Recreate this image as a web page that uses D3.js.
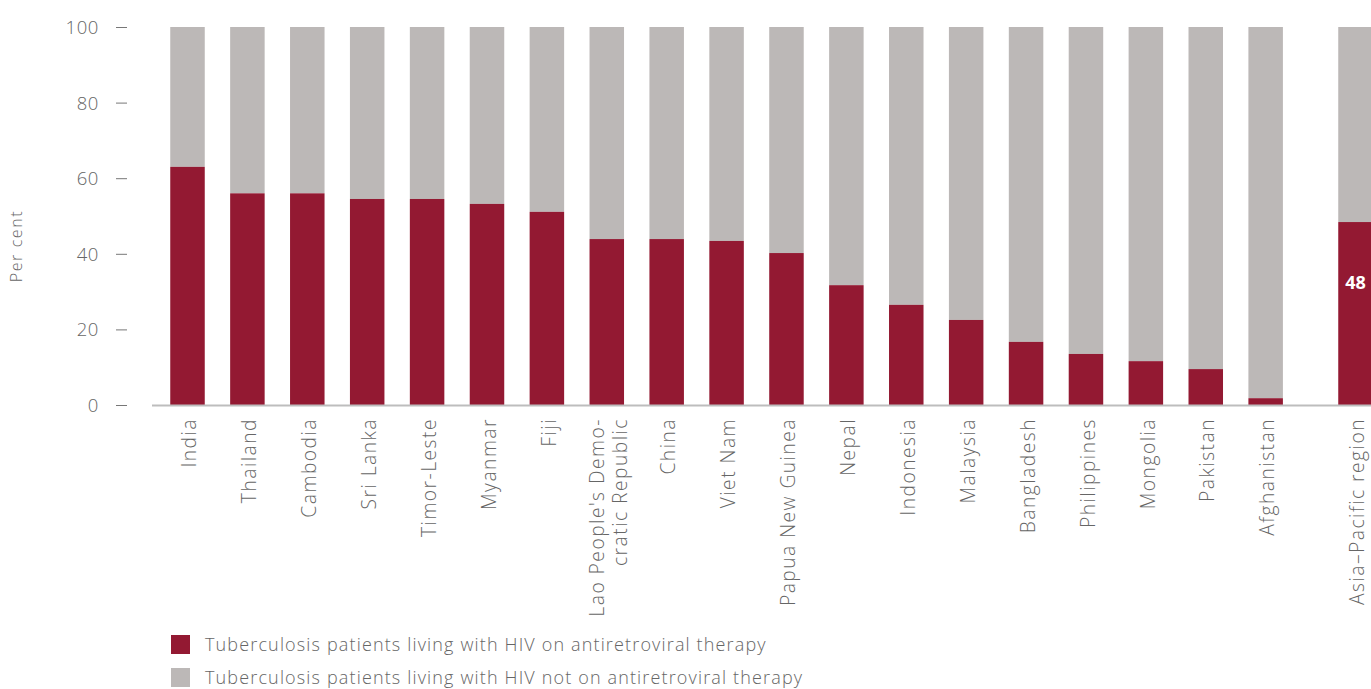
<!DOCTYPE html>
<html>
<head>
<meta charset="utf-8">
<script src="https://cdn.jsdelivr.net/npm/d3@7"></script>
<style>
  html, body { margin: 0; padding: 0; background: #fff; }
  svg { display: block; }
  text { font-family: "Open Sans", Lato, sans-serif; }
</style>
</head>
<body>
<svg id="chart" width="1371" height="689"></svg>
<script>
const categories = ["India", "Thailand", "Cambodia", "Sri Lanka", "Timor-Leste", "Myanmar", "Fiji",
  "Lao People's Demo-|cratic Republic", "China", "Viet Nam", "Papua New Guinea", "Nepal", "Indonesia",
  "Malaysia", "Bangladesh", "Philippines", "Mongolia", "Pakistan", "Afghanistan", "Asia–Pacific region"];
const onART = [63, 56, 56, 54.5, 54.5, 53.2, 51.1, 43.9, 43.9, 43.4, 40.2, 31.7, 26.5, 22.5, 16.7, 13.5, 11.6, 9.5, 1.8, 48.4];
const notOnART = onART.map(v => 100 - v);
const yTicks = [0, 20, 40, 60, 80, 100];
const seriesNames = ["Tuberculosis patients living with HIV on antiretroviral therapy",
  "Tuberculosis patients living with HIV not on antiretroviral therapy"];
const colors = ["#931932", "#bcb8b7"];
const regionLabel = ["48"];

const svg = d3.select("#chart");
const textColor = "#666";
const W = 300;

const slot = categories.map((c, i) => i === categories.length - 1 ? i + 0.5 : i);
const x = d3.scaleLinear().domain([0, 19.5]).range([187.5, 1355.5]);
const barW = 34.5;
const y = d3.scaleLinear().domain([0, 100]).range([405, 27]);

const data = categories.map((c, i) => ({ c, i, s: slot[i], a: onART[i], b: notOnART[i] }));

svg.append("g").selectAll("rect").data(data).join("rect")
  .attr("x", d => x(d.s) - barW / 2)
  .attr("width", barW)
  .attr("y", d => y(d.a + d.b))
  .attr("height", d => y(d.a) - y(d.a + d.b))
  .attr("fill", colors[1]);

svg.append("g").selectAll("rect").data(data).join("rect")
  .attr("x", d => x(d.s) - barW / 2)
  .attr("width", barW)
  .attr("y", d => y(d.a))
  .attr("height", d => y(0) - y(d.a))
  .attr("fill", colors[0]);

svg.append("line")
  .attr("x1", 152).attr("x2", 1371)
  .attr("y1", y(0) + 0.5).attr("y2", y(0) + 0.5)
  .attr("stroke", "#bdbdbd").attr("stroke-width", 2);

const yAxis = d3.axisLeft(y).tickValues(yTicks).tickSize(0).tickPadding(0);
const gy = svg.append("g").attr("transform", "translate(99,0)").call(yAxis);
gy.select(".domain").remove();
gy.selectAll(".tick text").attr("font-size", 18.5).attr("fill", textColor)
  .attr("font-family", "'Open Sans', sans-serif").attr("font-weight", W).attr("x", 0).attr("dy", "0.35em")
  .attr("letter-spacing", 0.6);
gy.selectAll(".tick").append("line")
  .attr("x1", 17).attr("x2", 28).attr("y1", 0).attr("y2", 0)
  .attr("stroke", "#777").attr("stroke-width", 1);

svg.append("text")
  .attr("transform", "translate(22,246) rotate(-90)")
  .attr("text-anchor", "middle")
  .attr("font-size", 16).attr("font-weight", W).attr("fill", textColor)
  .attr("letter-spacing", 1.6)
  .text("Per cent");

const xl = svg.append("g").selectAll("g").data(data).join("g")
  .attr("transform", d => `translate(${x(d.s)},418) rotate(-90)`);
xl.each(function(d) {
  const lines = d.c.split("|");
  const g = d3.select(this);
  const lh = 23;
  lines.forEach((ln, k) => {
    g.append("text")
      .attr("text-anchor", "end")
      .attr("x", 0)
      .attr("y", (k - (lines.length - 1) / 2) * lh + 2)
      .attr("dy", "0.35em")
      .attr("font-size", 19.2).attr("font-weight", W).attr("fill", textColor)
      .attr("letter-spacing", 1.5)
      .text(ln);
  });
});

const last = data[data.length - 1];
svg.append("text")
  .attr("x", x(last.s)).attr("y", y(last.a * 2 / 3))
  .attr("dy", "0.35em").attr("text-anchor", "middle")
  .attr("font-size", 18).attr("font-weight", 700).attr("fill", "#fff")
  .text(regionLabel[0]);

const lg = svg.append("g").selectAll("g").data(seriesNames).join("g")
  .attr("transform", (d, i) => `translate(171,${635 + i * 33})`);
lg.append("rect").attr("width", 19).attr("height", 19).attr("fill", (d, i) => colors[i]);
lg.append("text").attr("x", 34).attr("y", 9.5).attr("dy", "0.35em")
  .attr("font-size", 18).attr("font-weight", W).attr("fill", textColor)
  .attr("letter-spacing", 1.15)
  .text(d => d);
</script>
</body>
</html>
